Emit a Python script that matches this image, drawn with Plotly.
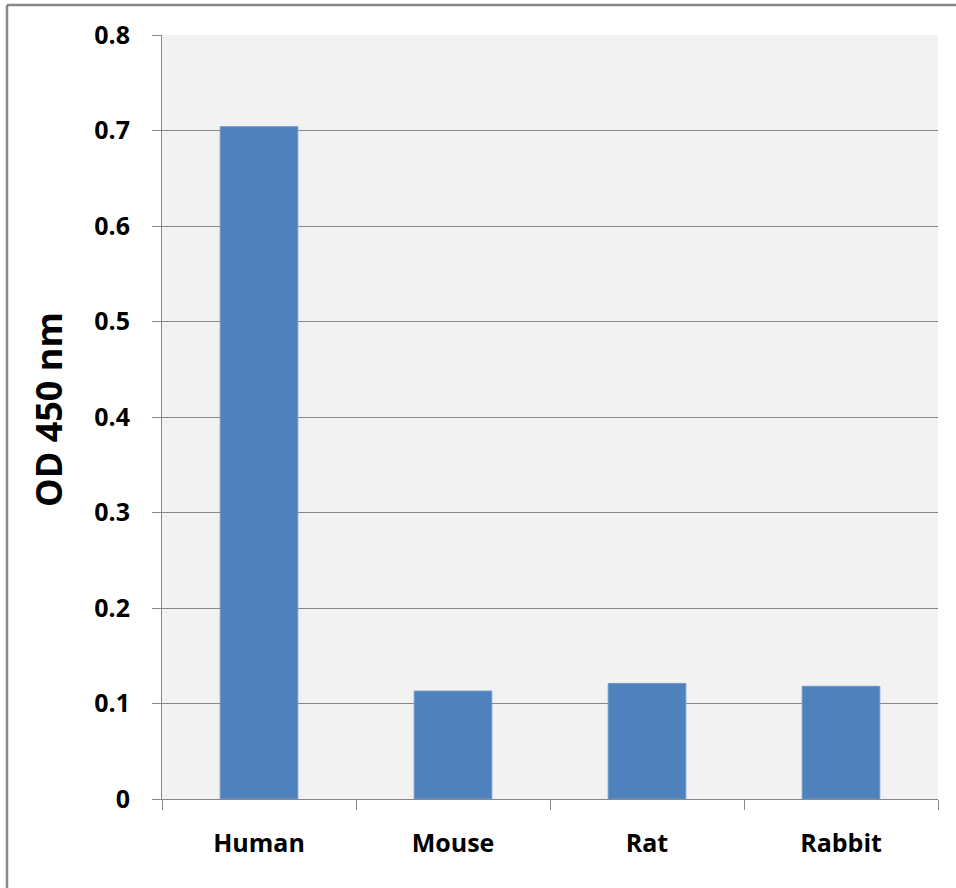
import plotly.graph_objects as go

categories = ["Human", "Mouse", "Rat", "Rabbit"]
od_values = [0.704, 0.113, 0.121, 0.118]
y_ticks = [0, 0.1, 0.2, 0.3, 0.4, 0.5, 0.6, 0.7, 0.8]
y_tick_labels = ["0", "0.1", "0.2", "0.3", "0.4", "0.5", "0.6", "0.7", "0.8"]
y_title = "OD 450 nm"

W, H = 956, 888
L, R, T, B = 162, 18, 35, 89
pw, ph = W - L - R, H - T - B

def px(x):
    return (x - L) / pw

def py(y):
    return (H - B - y) / ph

fig = go.Figure(go.Bar(
    x=categories, y=od_values, width=0.4,
    marker=dict(color="#4F81BD", line=dict(color="#6F97C9", width=1)),
))

FONT = "Open Sans, Liberation Sans, sans-serif"
fig.update_layout(
    width=W, height=H,
    margin=dict(l=L, r=R, t=T, b=B, autoexpand=False),
    paper_bgcolor="white", plot_bgcolor="#F2F2F2",
    showlegend=False,
    font=dict(family=FONT, color="black"),
)
fig.update_yaxes(
    range=[0, 0.8], tickvals=y_ticks, ticktext=y_tick_labels,
    showgrid=True, gridcolor="#888888", gridwidth=1,
    showline=True, linecolor="#888888", linewidth=1,
    ticks="outside", ticklen=9, tickcolor="#888888",
    tickfont=dict(size=25, family=FONT, weight="bold"),
    ticklabelstandoff=17,
    zeroline=False,
)
fig.update_xaxes(
    showline=True, linecolor="#888888", linewidth=1,
    ticks="outside", ticklen=10, tickcolor="#888888", tickson="boundaries",
    tickfont=dict(size=25, family=FONT, weight="bold"),
    ticklabelstandoff=22,
    showgrid=False,
)
fig.add_annotation(
    text=y_title, textangle=-90, showarrow=False,
    xref="paper", yref="paper", x=px(48), y=py(410),
    xanchor="center", yanchor="middle",
    font=dict(size=36, family=FONT, weight="bold", color="black"),
)
# outer frame (top and left visible)
fig.add_shape(type="line", xref="paper", yref="paper",
              x0=px(7), x1=px(960), y0=py(5), y1=py(5),
              line=dict(color="#888888", width=2.5))
fig.add_shape(type="line", xref="paper", yref="paper",
              x0=px(7), x1=px(7), y0=py(5), y1=py(892),
              line=dict(color="#888888", width=2.5))

fig.write_html("out.html", config={"displayModeBar": False},
               post_script="document.body.style.margin='0';document.body.style.overflow='hidden';")
